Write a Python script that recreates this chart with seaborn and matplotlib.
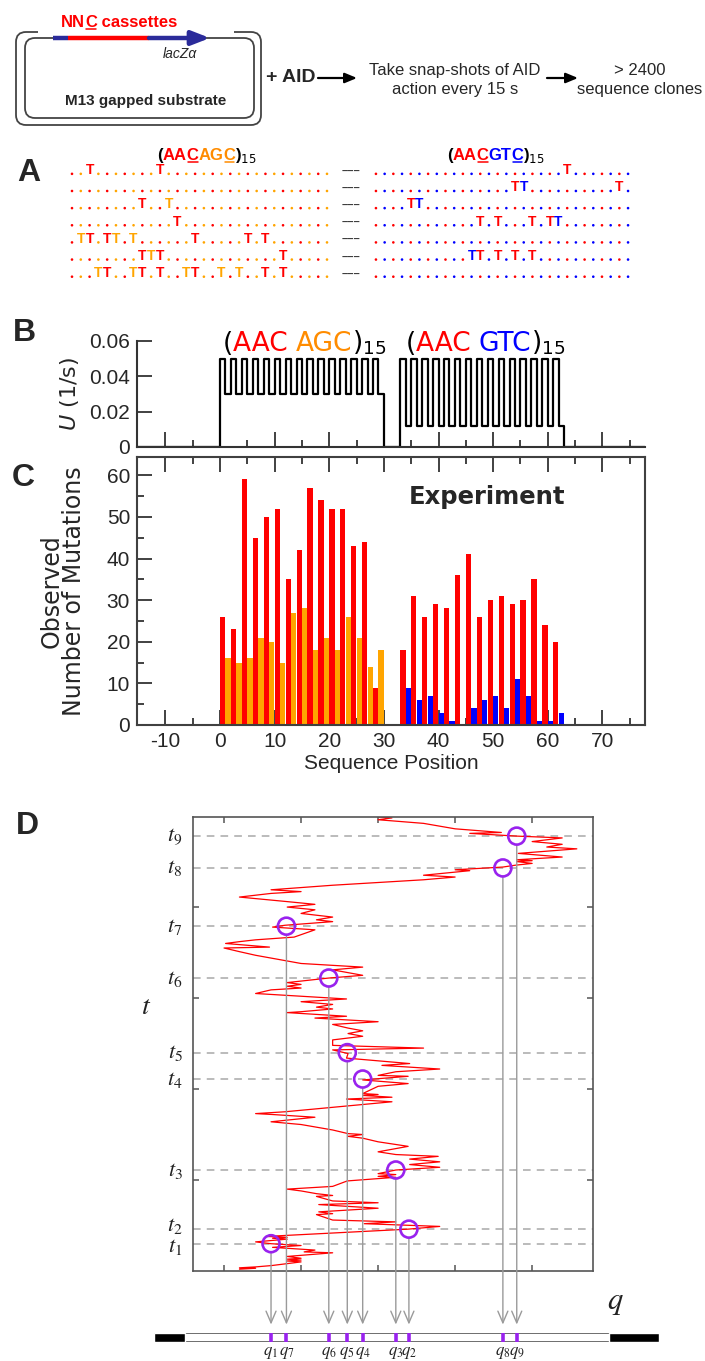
import numpy as np
import pandas as pd
import matplotlib
matplotlib.use('Agg')
import matplotlib.pyplot as plt
import seaborn as sns
from matplotlib.patches import FancyBboxPatch, Rectangle
from matplotlib.lines import Line2D
from matplotlib.offsetbox import TextArea, HPacker, AnnotationBbox
import matplotlib.transforms as mtransforms

sns.set_theme(style='white')
plt.rcParams['font.family'] = ['Liberation Sans', 'DejaVu Sans']
plt.rcParams['mathtext.fontset'] = 'stix'

# ---------------- data ----------------
# Panel C: observed mutations per cassette position
agc_aac_pos = list(range(0, 30, 2))
agc_aac_counts = [26, 23, 59, 45, 50, 52, 35, 42, 57, 54, 52, 52, 43, 44, 9]
agc_agc_pos = list(range(1, 30, 2))
agc_agc_counts = [16, 15, 16, 21, 20, 15, 27, 28, 18, 21, 18, 26, 21, 14, 18]
gtc_aac_pos = list(range(33, 62, 2))
gtc_aac_counts = [18, 31, 26, 29, 28, 36, 41, 26, 30, 31, 29, 30, 35, 24, 20]
gtc_gtc_pos = list(range(34, 63, 2))
gtc_gtc_counts = [9, 6, 7, 3, 1, 0, 4, 6, 7, 4, 11, 7, 1, 1, 3]

# Panel B: deamination rates U (1/s)
u_aac = 0.05
u_agc = 0.03
u_gtc = 0.012

# Panel A: positions (0-29 in each block) that carry a C->T mutation, per clone
agc_T_rows = [[2, 10], [], [8, 11], [12], [1, 2, 4, 5, 7, 14, 20, 22],
              [8, 9, 10, 24], [3, 4, 7, 8, 10, 13, 14, 17, 19, 22, 24]]
gtc_T_rows = [[22], [16, 17, 28], [4, 5], [12, 14, 18, 20, 21], [],
              [11, 12, 14, 16, 18], []]

# Panel D: trajectory of the enzyme position q over time t
trace_q = [1.20, 1.41, 1.20, 1.41, 1.62, 2.00, 1.82, 2.00, 1.82, 2.00, 1.82,
           2.41, 2.04, 2.18, 1.63, 2.00, 1.61, 1.41, 1.68, 1.82, 1.63, 1.82, 1.55,
           3.39, 3.80, 2.82, 3.23, 2.41, 2.20, 2.41, 2.23, 3.00, 2.23, 3.00, 2.41,
           2.20, 2.41, 2.20, 2.00, 1.82, 2.41, 2.60, 3.23, 3.00, 3.23, 3.00, 3.23,
           3.80, 3.41, 3.80, 3.41, 3.78, 3.23, 3.00, 3.39, 3.00, 2.80, 2.61, 2.80, 2.61,
           2.41, 2.00, 1.61, 2.18, 1.63, 1.41, 1.79, 3.18, 2.59, 3.18, 2.80, 3.00, 2.80,
           3.00, 3.39, 2.80,
           3.39, 3.00, 3.23, 3.80, 3.05, 3.41, 2.59, 2.61, 2.41, 3.59, 2.41,
           2.41, 2.80, 2.61, 2.80, 2.61, 2.41, 3.00, 2.18, 2.59, 1.82, 2.00,
           2.41, 2.20, 2.41, 2.00, 2.59, 1.41, 1.61, 2.00, 1.82, 2.00, 1.82,
           2.36, 2.80, 2.41, 2.80, 2.00, 1.61, 1.41, 1.20, 1.00, 1.59, 1.02, 1.20, 1.41, 1.91,
           2.18, 1.63, 1.79, 2.41, 2.20, 2.41, 2.00, 2.18, 1.82, 2.18, 1.82,
           1.20, 1.61, 2.00, 1.61, 2.41, 3.59, 4.00, 3.59, 4.19, 4.00,
           4.62, 4.78, 5.00, 4.80, 5.00, 4.80, 5.39, 4.82, 5.58, 5.19, 5.39, 5.00, 5.39,
           4.80, 4.19, 4.60, 4.00, 3.59, 3.00, 3.18, 3.00]
trace_t = [0.02, 0.03, 0.035, 0.045, 0.06, 0.10, 0.11, 0.12, 0.13, 0.14, 0.16,
           0.20, 0.21, 0.23, 0.26, 0.28, 0.30, 0.32, 0.34, 0.35, 0.36, 0.37, 0.38,
           0.46, 0.49, 0.52, 0.54, 0.56, 0.62, 0.63, 0.65, 0.69, 0.73, 0.75, 0.77,
           0.82, 0.83, 0.85, 0.88, 0.90, 0.93, 0.99, 1.03, 1.04, 1.06, 1.07, 1.11,
           1.14, 1.17, 1.20, 1.23, 1.26, 1.28, 1.31, 1.37, 1.42, 1.46, 1.48, 1.50, 1.51,
           1.55, 1.61, 1.64, 1.69, 1.72, 1.73, 1.75, 1.86, 1.89, 1.91, 1.93, 1.94, 1.95,
           2.03, 2.06, 2.10,
           2.14, 2.15, 2.19, 2.22, 2.26, 2.28, 2.34, 2.39, 2.43, 2.45, 2.48,
           2.54, 2.58, 2.61, 2.64, 2.67, 2.71, 2.74, 2.78, 2.80, 2.84, 2.85,
           2.88, 2.90, 2.93, 2.96, 2.99, 3.05, 3.09, 3.11, 3.13, 3.15, 3.17,
           3.22, 3.25, 3.31, 3.34, 3.38, 3.44, 3.47, 3.51, 3.55, 3.56, 3.60, 3.62, 3.64, 3.67,
           3.75, 3.78, 3.80, 3.84, 3.86, 3.89, 3.93, 3.97, 4.00, 4.03, 4.06,
           4.11, 4.15, 4.17, 4.19, 4.24, 4.30, 4.33, 4.35, 4.40, 4.41,
           4.44, 4.46, 4.48, 4.50, 4.51, 4.52, 4.55, 4.59, 4.64, 4.66, 4.69, 4.72, 4.76,
           4.78, 4.81, 4.82, 4.86, 4.92, 4.96, 4.98, 4.99]
snap_labels = ['1', '2', '3', '4', '5', '6', '7', '8', '9']
snap_q = [1.61, 3.40, 3.23, 2.80, 2.60, 2.36, 1.81, 4.62, 4.80]
snap_t = [0.30, 0.46, 1.11, 2.11, 2.40, 3.22, 3.79, 4.43, 4.78]

RED = '#FF0000'
ORANGE = '#FFA500'
BLUE = '#0000FF'
PURPLE = '#9922EE'
NAVY = '#2B2B9A'
AXC = '#333333'

W, H = 705, 1361
fig = plt.figure(figsize=(W / 100, H / 100), dpi=100)


def rect(l, t, r, b):
    return [l / W, 1 - b / H, (r - l) / W, (b - t) / H]


underlined = []


def colored_title(parts, size, family, weight='normal'):
    kids = []
    for txt, col, ul in parts:
        ta = TextArea(txt, textprops=dict(color=col, fontsize=size, fontfamily=family,
                                          fontweight=weight, math_fontfamily='dejavusans'))
        kids.append(ta)
        if ul:
            underlined.append((ta, col))
    return HPacker(children=kids, align='baseline', pad=0, sep=0)


# ---------------- Panel B ----------------
ax_b = fig.add_axes(rect(137, 341, 645, 447))
step_x = [-15.2]
step_y = [0.0]
for p in range(0, 30):
    step_x.append(p)
    step_y.append(u_aac if p % 2 == 0 else u_agc)
step_x.append(30); step_y.append(0.0)
for p in range(33, 63):
    step_x.append(p)
    step_y.append(u_aac if p % 2 == 1 else u_gtc)
step_x.append(63); step_y.append(0.0)
step_x.append(77.8); step_y.append(0.0)
sns.lineplot(x=step_x, y=step_y, ax=ax_b, color='black', lw=1.6,
             drawstyle='steps-post', estimator=None, sort=False)
ax_b.set_xlim(-15.2, 77.8)
ax_b.set_ylim(0, 0.06)
ax_b.set_facecolor('none')
for s in ['top', 'right']:
    ax_b.spines[s].set_visible(False)
for s in ['left', 'bottom']:
    ax_b.spines[s].set_color(AXC)
    ax_b.spines[s].set_linewidth(1.5)
ax_b.set_yticks([0, 0.02, 0.04, 0.06])
ax_b.set_yticklabels(['0', '0.02', '0.04', '0.06'])
ax_b.set_xticks(range(-10, 71, 10))
ax_b.set_xticks(range(-5, 76, 10), minor=True)
ax_b.set_xticklabels([])
ax_b.tick_params(which='both', direction='in', color=AXC, width=1.3,
                 bottom=True, left=True, labelsize=15, pad=5)
ax_b.tick_params(which='major', length=11)
ax_b.tick_params(which='minor', length=5)
ax_b.set_ylabel('$U$ (1/s)', fontsize=16, fontfamily='DejaVu Sans', math_fontfamily='dejavusans')
ax_b.yaxis.set_label_coords(-0.11, 0.5)
ax_b.set_xlabel('')

t1 = colored_title([('(', 'black', False), ('AAC ', RED, False), ('AGC', 'darkorange', False),
                    (')$_{15}$', 'black', False)], 19, 'DejaVu Sans')
t2 = colored_title([('(', 'black', False), ('AAC ', RED, False), ('GTC', BLUE, False),
                    (')$_{15}$', 'black', False)], 19, 'DejaVu Sans')
for box, xc in [(t1, 15.5), (t2, 48.6)]:
    ab = AnnotationBbox(box, (xc, 0.0589), xycoords='data', frameon=False,
                        box_alignment=(0.5, 0.5), annotation_clip=False)
    ax_b.add_artist(ab)

# ---------------- Panel C ----------------
ax_c = fig.add_axes(rect(137, 457, 645, 725))
bar_sets = [(agc_aac_pos, agc_aac_counts, RED), (agc_agc_pos, agc_agc_counts, ORANGE),
            (gtc_aac_pos, gtc_aac_counts, RED), (gtc_gtc_pos, gtc_gtc_counts, BLUE)]
for pos, cnt, col in bar_sets:
    df = pd.DataFrame({'pos': np.array(pos) + 0.48, 'n': cnt})
    sns.barplot(data=df, x='pos', y='n', native_scale=True, color=col, saturation=1,
                width=0.48, errorbar=None, linewidth=0, ax=ax_c)
ax_c.set_xlim(-15.2, 77.8)
ax_c.set_ylim(0, 64.4)
ax_c.set_xticks(range(-10, 71, 10))
ax_c.set_xticklabels([str(v) for v in range(-10, 71, 10)])
ax_c.set_xticks(range(-5, 76, 10), minor=True)
ax_c.set_yticks(range(0, 61, 10))
ax_c.set_yticklabels([str(v) for v in range(0, 61, 10)])
ax_c.set_yticks(range(5, 61, 10), minor=True)
for s in ax_c.spines.values():
    s.set_color('#404040')
    s.set_linewidth(1.5)
ax_c.tick_params(which='both', direction='in', color=AXC, width=1.3,
                 bottom=True, top=True, left=True, right=False, labelsize=15, pad=5)
ax_c.tick_params(which='major', length=11)
ax_c.tick_params(which='minor', length=5)
ax_c.set_xlabel('Sequence Position', fontsize=15, labelpad=2)
ax_c.set_ylabel('Observed\nNumber of Mutations', fontsize=17, fontfamily='DejaVu Sans',
                linespacing=0.9)
ax_c.yaxis.set_label_coords(-0.10, 0.5)
ax_c.text(48.8, 54.8, 'Experiment', fontsize=17.5, fontweight='bold',
          fontfamily='DejaVu Sans', ha='center', va='center')

# ---------------- Panel D ----------------
ax_d = fig.add_axes(rect(193, 817, 593, 1271))
for tt in snap_t:
    ax_d.axhline(tt, color='#A8A8A8', ls=(0, (5, 4)), lw=1.1, zorder=1)
trace = pd.DataFrame({'q': trace_q, 't': trace_t})
sns.lineplot(data=trace, x='q', y='t', sort=False, estimator=None, color=RED,
             lw=0.9, ax=ax_d, zorder=2)
for qq, tt in zip(snap_q, snap_t):
    ax_d.annotate('', xy=(qq, -0.118), xycoords=('data', 'axes fraction'),
                  xytext=(qq, tt), textcoords='data', annotation_clip=False,
                  arrowprops=dict(arrowstyle='->,head_length=0.7,head_width=0.3',
                                  color='#9A9A9A', lw=1.0, shrinkA=6, shrinkB=0))
sns.scatterplot(x=snap_q, y=snap_t, ax=ax_d, s=150, marker='o', facecolors='none',
                edgecolor=PURPLE, linewidth=1.9, zorder=5)
ax_d.set_xlim(0.597, 5.79)
ax_d.set_ylim(0, 4.99)
ax_d.set_xticks([1, 2, 3, 4, 5])
ax_d.set_yticks([1, 2, 3, 4])
ax_d.set_xticklabels([])
ax_d.set_yticklabels([])
ax_d.tick_params(which='both', direction='in', length=4, width=1.1, color='#555555',
                 bottom=True, top=True, left=True, right=True)
for s in ax_d.spines.values():
    s.set_color('#555555')
    s.set_linewidth(1.2)
tblend = mtransforms.blended_transform_factory(ax_d.transAxes, ax_d.transData)
label_nudge = {'1': -0.03, '2': 0.04}
for lab, tt in zip(snap_labels, snap_t):
    ax_d.text(-0.045, tt + label_nudge.get(lab, 0.0), '$t_{%s}$' % lab, transform=tblend,
              fontsize=16, ha='center', va='center', color='#222222')
ax_d.set_ylabel('$t$', fontsize=20, rotation=0, color='#222222')
ax_d.yaxis.set_label_coords(-0.1175, 0.552)
ax_d.set_xlabel('$q$', fontsize=22, color='#222222')
ax_d.xaxis.set_label_coords(1.055, -0.035)

# strip with marked positions
ax_s = fig.add_axes(rect(153.5, 1333, 659, 1342))
ax_s.barh(0, 6.65 - 0.084, left=0.084, height=1, color='white', edgecolor='#555555', lw=1.2)
ax_s.barh(0, 0.49 - 0.084, left=0.084, height=1, color='black')
ax_s.barh(0, 6.65 - 6.0, left=6.0, height=1, color='black')
ax_s.vlines(snap_q, -0.5, 0.5, color=PURPLE, lw=2.6)
for lab, qq in zip(snap_labels, snap_q):
    ax_s.text(qq, -1.75, '$q_{%s}$' % lab, fontsize=12, ha='center', va='center',
              color='#222222', clip_on=False)
ax_s.set_xlim(0.084, 6.65)
ax_s.set_ylim(-0.5, 0.5)
ax_s.axis('off')

# ---------------- Panel A rows ----------------
for (l, r), rows, col2 in [((67.6, 331.4), agc_T_rows, ORANGE), ((371.6, 632.4), gtc_T_rows, BLUE)]:
    ax_a = fig.add_axes(rect(l, 161.5, r, 281.5))
    for ri, Ts in enumerate(rows):
        dots = [i for i in range(30) if i not in Ts]
        cols = [RED if i % 2 == 0 else col2 for i in dots]
        ax_a.scatter(dots, [ri + 0.22] * len(dots), s=3.5, c=cols, linewidths=0)
        for i in Ts:
            ax_a.text(i, ri, 'T', color=RED if i % 2 == 0 else col2, fontsize=10,
                      fontweight='bold', ha='center', va='center')
        if col2 == ORANGE:
            ax_a.text(31.7, ri + 0.1, '\u2013\u2013\u2013', color='#333333', fontsize=8,
                      fontweight='bold', ha='center', va='center', clip_on=False)
    ax_a.set_xlim(-0.5, 29.5)
    ax_a.set_ylim(6.5, -0.5)
    ax_a.axis('off')

# ---------------- overlay: schematic, titles, panel letters ----------------
ov = fig.add_axes([0, 0, 1, 1])
ov.set_xlim(0, W)
ov.set_ylim(H, 0)
ov.axis('off')
ov.add_patch(FancyBboxPatch((16, 32), 245, 93, boxstyle='round,pad=0,rounding_size=10',
                            fc='none', ec='#444444', lw=1.3))
ov.add_patch(Rectangle((38, 28), 196, 8, fc='white', ec='none', zorder=2))
ov.add_patch(FancyBboxPatch((25, 38), 229, 80, boxstyle='round,pad=0,rounding_size=10',
                            fc='none', ec='#444444', lw=1.3))
ov.plot([53, 68], [38, 38], color=NAVY, lw=3.2, solid_capstyle='butt', zorder=3)
ov.plot([68, 149], [38, 38], color=RED, lw=3.2, solid_capstyle='butt', zorder=3)
ov.annotate('', xy=(210, 38), xytext=(149, 38),
            arrowprops=dict(arrowstyle='-|>,head_length=0.9,head_width=0.35', color=NAVY,
                            lw=3.2, shrinkA=0, shrinkB=0), zorder=3)
nnc = colored_title([('NN', RED, False), ('C', RED, True), (' cassettes', RED, False)],
                    12, 'Liberation Sans', 'bold')
ov.add_artist(AnnotationBbox(nnc, (61, 22), xycoords='data', frameon=False,
                             box_alignment=(0.0, 0.5)))
ov.text(180, 54, 'lacZα', fontsize=10, style='italic', ha='center', va='center')
ov.text(146, 101, 'M13 gapped substrate', fontsize=11, fontweight='bold', ha='center', va='center')
ov.text(266, 77, '+ AID', fontsize=14, fontweight='bold', ha='left', va='center')
for x0, x1 in [(318, 357), (547, 578)]:
    ov.annotate('', xy=(x1, 78), xytext=(x0, 78),
                arrowprops=dict(arrowstyle='-|>,head_length=0.6,head_width=0.25', color='black',
                                lw=1.6, shrinkA=0, shrinkB=0))
ov.text(455, 80, 'Take snap-shots of AID\naction every 15 s', fontsize=12, ha='center',
        va='center', linespacing=1.3)
ov.text(640, 80, '> 2400\nsequence clones', fontsize=12, ha='center', va='center',
        linespacing=1.3)

a1 = colored_title([('(', 'black', False), ('AA', RED, False), ('C', RED, True),
                    ('AG', 'darkorange', False), ('C', 'darkorange', True),
                    (')$_{15}$', 'black', False)], 12, 'Liberation Sans', 'bold')
a2 = colored_title([('(', 'black', False), ('AA', RED, False), ('C', RED, True),
                    ('GT', BLUE, False), ('C', BLUE, True),
                    (')$_{15}$', 'black', False)], 12, 'Liberation Sans', 'bold')
for box, xc in [(a1, 207), (a2, 496)]:
    ov.add_artist(AnnotationBbox(box, (xc, 155), xycoords='data', frameon=False,
                                 box_alignment=(0.5, 0.5)))

for lab, (x, y) in {'A': (29, 173), 'B': (24, 333), 'C': (23, 478), 'D': (27, 826)}.items():
    ov.text(x, y, lab, fontsize=23, fontweight='bold', ha='center', va='center')

# underline the marked C's
fig.canvas.draw()
rend = fig.canvas.get_renderer()
for ta, col in underlined:
    bb = ta._text.get_window_extent(rend)
    y = bb.y0 + 1.0
    fig.add_artist(Line2D([bb.x0 + 1, bb.x1 - 1], [y, y], transform=mtransforms.IdentityTransform(),
                          color=col, lw=1.1))

fig.savefig('out.png', dpi=100)
